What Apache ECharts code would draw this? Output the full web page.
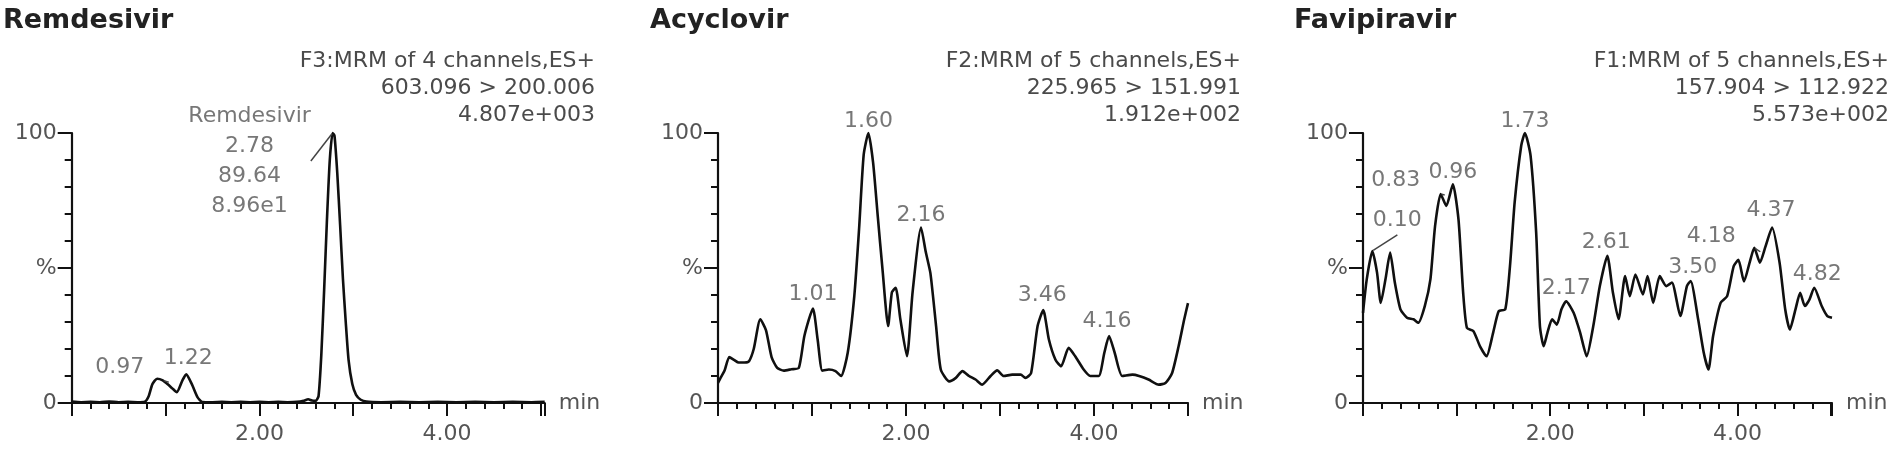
<!DOCTYPE html>
<html>
<head>
<meta charset="utf-8">
<script src="https://cdn.jsdelivr.net/npm/echarts@6/dist/echarts.min.js"></script>
<style>html,body{margin:0;padding:0;background:#fff}#c{width:1902px;height:452px}</style>
</head>
<body>
<div id="c"></div>
<script>
// ---------- DATA ----------
const panelTitles = ['Remdesivir', 'Acyclovir', 'Favipiravir'];
const panelHeaders = [
  ['F3:MRM of 4 channels,ES+', '603.096 > 200.006', '4.807e+003'],
  ['F2:MRM of 5 channels,ES+', '225.965 > 151.991', '1.912e+002'],
  ['F1:MRM of 5 channels,ES+', '157.904 > 112.922', '5.573e+002']
];
const xTickLabels = ['2.00', '4.00'];
const yTickLabels = ['0', '%', '100'];

// retention time (min), relative intensity (%)
const remdesivirTrace = [
  [0.00,0.5],[0.10,0.3],[0.20,0.4],[0.30,0.3],[0.40,0.5],[0.50,0.3],[0.60,0.4],[0.70,0.3],[0.78,0.5],
  [0.82,2.5],[0.86,7],[0.91,9],[0.97,8.4],[1.02,7],[1.07,5.5],[1.12,4],[1.18,8.4],[1.22,10.6],[1.28,7],
  [1.34,2.2],[1.39,0.4],[1.50,0.3],[1.60,0.4],[1.70,0.3],[1.80,0.4],[1.90,0.3],[2.00,0.4],[2.10,0.3],
  [2.20,0.4],[2.30,0.3],[2.40,0.4],[2.47,0.8],[2.52,1.4],[2.56,0.9],[2.60,0.8],[2.63,2.5],[2.66,18],
  [2.69,42],[2.72,68],[2.75,90],[2.78,100],[2.80,99],[2.83,85],[2.86,66],[2.89,46],[2.92,30],[2.95,16],
  [2.99,7],[3.03,3],[3.08,1.2],[3.14,0.5],[3.30,0.3],[3.50,0.4],[3.70,0.3],[3.90,0.4],[4.10,0.3],
  [4.30,0.4],[4.50,0.3],[4.70,0.4],[4.90,0.3],[5.04,0.4]
];
const acyclovirTrace = [
  [0.00,7.4],[0.03,9.5],[0.07,12],[0.12,17],[0.17,16],[0.22,15],[0.28,15],[0.33,15.5],[0.38,20],[0.45,31],
  [0.51,27],[0.57,17],[0.63,13],[0.70,12],[0.78,12.5],[0.86,13],[0.92,25],[1.01,35],[1.06,23.5],[1.11,12],
  [1.18,12.4],[1.25,11.8],[1.31,10],[1.38,18.6],[1.45,39.6],[1.50,64],[1.55,92],[1.60,100],[1.65,89],
  [1.70,69],[1.75,49.5],[1.81,28.5],[1.85,41],[1.89,42.7],[1.94,31],[2.01,17.3],[2.07,41],[2.16,65],
  [2.21,56],[2.26,48],[2.32,28.5],[2.37,12.4],[2.46,8],[2.53,9.3],[2.60,11.8],[2.67,10],[2.74,8.7],
  [2.81,6.8],[2.90,10],[2.97,12.1],[3.04,10],[3.13,10.5],[3.22,10.5],[3.27,9.3],[3.33,11],[3.40,28.5],
  [3.46,34.4],[3.52,23.5],[3.59,16],[3.65,13.6],[3.73,20.4],[3.80,17.3],[3.89,12.4],[3.96,10],[4.05,10],
  [4.11,18.6],[4.16,24.8],[4.22,18.6],[4.30,10],[4.41,10.5],[4.48,10],[4.58,8.7],[4.69,6.8],[4.76,7.4],
  [4.83,11],[4.90,21],[4.96,31],[5.00,37]
];
const favipiravirTrace = [
  [0.00,33.4],[0.04,45.8],[0.10,56.3],[0.15,48.3],[0.19,37.1],[0.24,45.8],[0.29,55.7],[0.34,44.6],[0.40,34.7],
  [0.47,31.6],[0.54,31],[0.59,29.7],[0.66,35.9],[0.72,45.8],[0.77,65.6],[0.83,77.4],[0.89,73],[0.96,81],
  [1.02,68],[1.07,40.8],[1.11,27.8],[1.18,26.6],[1.25,21],[1.32,17.3],[1.39,26],[1.45,34],[1.52,34.7],
  [1.57,50.7],[1.62,74.3],[1.69,95.3],[1.73,100],[1.79,91.6],[1.85,63],[1.89,28.5],[1.93,21],[1.97,26],
  [2.02,31],[2.07,29],[2.12,34.7],[2.17,37.7],[2.25,33.4],[2.32,26],[2.39,17.3],[2.46,28.5],[2.53,43.3],
  [2.61,54.5],[2.67,40.8],[2.73,31],[2.80,47],[2.85,39.6],[2.91,47.6],[2.99,40.2],[3.04,47],[3.10,37.1],
  [3.17,47],[3.24,43.3],[3.30,44.6],[3.39,32.2],[3.46,43.3],[3.50,45.2],[3.58,31],[3.64,18.6],[3.69,12.4],
  [3.74,24.8],[3.82,37.1],[3.89,39.6],[3.96,50.7],[4.01,53],[4.07,45],[4.13,52],[4.18,57.5],[4.24,52],
  [4.30,58],[4.37,65],[4.45,52],[4.51,34.7],[4.56,27.2],[4.62,34.7],[4.67,40.8],[4.72,35.9],[4.77,38.4],
  [4.82,42.7],[4.90,35.9],[4.96,32.2],[5.01,31.6]
];

const remdesivirPeakT = [0.97, 1.22, 2.78];
const remdesivirPeakV = [8.4, 10.6, 100];
const remdesivirPeakText = ['0.97', '1.22', 'Remdesivir\n2.78\n89.64\n8.96e1'];

const acyclovirPeakT = [1.01, 1.60, 2.16, 3.46, 4.16];
const acyclovirPeakV = [35, 100, 65, 34.4, 24.8];
const acyclovirPeakText = ['1.01', '1.60', '2.16', '3.46', '4.16'];

const favipiravirPeakT = [0.10, 0.83, 0.96, 1.73, 2.17, 2.61, 3.50, 4.18, 4.37, 4.82];
const favipiravirPeakV = [56.3, 77.4, 81, 100, 37.7, 54.5, 45.2, 57.5, 65, 42.7];
const favipiravirPeakText = ['0.10', '0.83', '0.96', '1.73', '2.17', '2.61', '3.50', '4.18', '4.37', '4.82'];

// ---------- LAYOUT / STYLE ----------
const FONT = '"DejaVu Sans", "Liberation Sans", sans-serif';
const TXT = '#555';
const layout = [
  {left: 71.7, width: 473, max: 5.04, titleX: 3, headerRight: 595},
  {left: 718, width: 470, max: 5.0, titleX: 650, headerRight: 1241},
  {left: 1363, width: 469, max: 5.01, titleX: 1294, headerRight: 1889}
];
const labelOffsets = [
  [[-43,-13],[2,-16],[-83,28]],
  [[0,-14],[0,-12],[0,-12],[-1,-15],[-2,-15]],
  [[25,-31],[-45,-14],[0,-12],[0,-12],[0,-13],[-1,-14],[2,-14],[-43,-11],[-1,-17],[3,-13]]
];
const labelLeaders = [
  [true,false,true],
  [false,false,false,false,false],
  [true,true,false,false,false,false,false,true,false,false]
];

const traces = [remdesivirTrace, acyclovirTrace, favipiravirTrace];
const peakT = [remdesivirPeakT, acyclovirPeakT, favipiravirPeakT];
const peakV = [remdesivirPeakV, acyclovirPeakV, favipiravirPeakV];
const peakText = [remdesivirPeakText, acyclovirPeakText, favipiravirPeakText];

const chart = echarts.init(document.getElementById('c'), null, {renderer: 'canvas'});

const grid = [], xAxis = [], yAxis = [], series = [], graphic = [];
layout.forEach((L, i) => {
  grid.push({left: L.left, width: L.width, top: 133, height: 270, containLabel: false});
  xAxis.push({
    type: 'value', gridIndex: i, min: 0, max: L.max, interval: 1,
    axisLine: {show: true, onZero: false, lineStyle: {color: '#111', width: 2.2}},
    axisTick: {show: true, length: 13, lineStyle: {color: '#111', width: 2}},
    minorTick: {show: true, splitNumber: 5, length: 6, lineStyle: {color: '#111', width: 2}},
    splitLine: {show: false}, minorSplitLine: {show: false},
    axisLabel: {
      show: true, margin: 20, fontSize: 22, fontFamily: FONT, color: TXT,
      showMinLabel: true, showMaxLabel: true,
      formatter: v => (Math.abs(v - 2) < 1e-9 ? xTickLabels[0] : Math.abs(v - 4) < 1e-9 ? xTickLabels[1] : '')
    },
    name: 'min', nameLocation: 'end', nameGap: 14,
    nameTextStyle: {fontSize: 22, fontFamily: FONT, color: TXT, verticalAlign: 'middle'}
  });
  yAxis.push({
    type: 'value', gridIndex: i, min: 0, max: 100, interval: 50,
    axisLine: {show: true, lineStyle: {color: '#111', width: 2.2}},
    axisTick: {show: true, length: 14, lineStyle: {color: '#111', width: 2}},
    minorTick: {show: true, splitNumber: 5, length: 7, lineStyle: {color: '#111', width: 2}},
    splitLine: {show: false}, minorSplitLine: {show: false},
    axisLabel: {
      show: true, margin: 15, fontSize: 22, fontFamily: FONT, color: TXT,
      formatter: v => (v === 0 ? yTickLabels[0] : v === 50 ? yTickLabels[1] : v === 100 ? yTickLabels[2] : '')
    }
  });
  series.push({
    type: 'line', xAxisIndex: i, yAxisIndex: i, data: traces[i],
    showSymbol: false, symbol: 'none', smooth: 0.2, clip: false,
    lineStyle: {color: '#101010', width: 2.6, join: 'round'}, silent: true
  });
  series.push({
    type: 'scatter', xAxisIndex: i, yAxisIndex: i, symbolSize: 2, z: 5,
    itemStyle: {color: 'rgba(0,0,0,0)'}, silent: true,
    label: {show: true, position: 'inside', fontSize: 22, fontFamily: FONT, color: TXT, lineHeight: 30},
    labelLine: {show: false, lineStyle: {color: '#444', width: 1.5}},
    data: peakT[i].map((t, k) => ({
      value: [t, peakV[i][k]],
      label: {formatter: peakText[i][k], offset: labelOffsets[i][k]},
      labelLine: {show: labelLeaders[i][k]}
    }))
  });
  graphic.push({
    type: 'text', x: L.titleX, y: 21,
    style: {text: panelTitles[i], font: 'bold 27px ' + FONT, fill: '#222', align: 'left', verticalAlign: 'middle'}
  });
  graphic.push({
    type: 'text', x: L.headerRight, y: 47.5,
    style: {text: panelHeaders[i].join('\n'), font: '22px ' + FONT, fill: '#4a4a4a', align: 'right', verticalAlign: 'top', lineHeight: 27}
  });
});

chart.setOption({
  animation: false,
  backgroundColor: '#fff',
  grid, xAxis, yAxis, series, graphic
});
</script>
</body>
</html>
